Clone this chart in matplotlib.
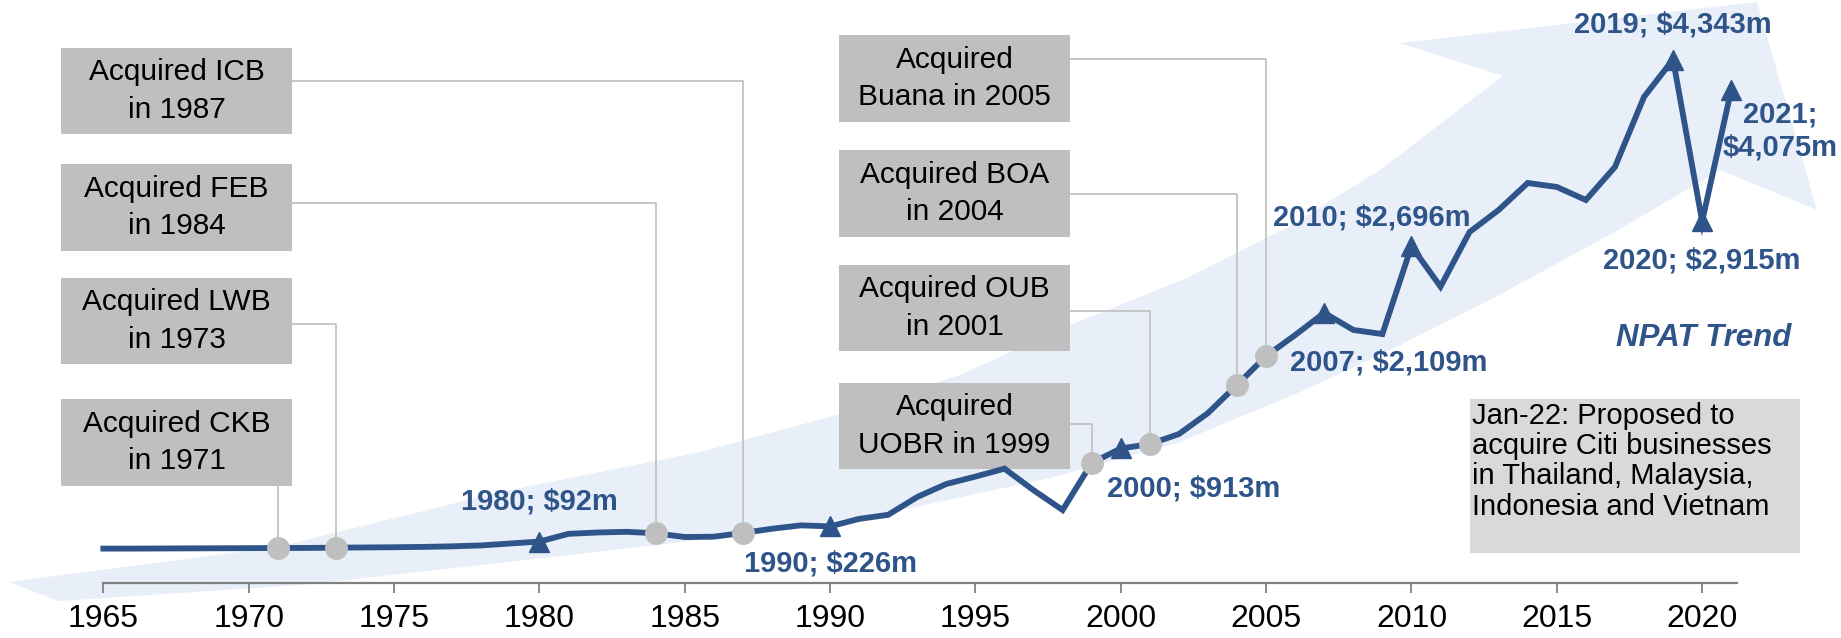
import matplotlib
matplotlib.use("Agg")
import matplotlib.pyplot as plt
from matplotlib.patches import Polygon, Rectangle
from matplotlib.lines import Line2D

plt.rcParams['font.family'] = ['Liberation Sans', 'DejaVu Sans']

# ---- data (NPAT, S$m) ----
years = list(range(1965, 2022))
npat = [30, 30, 31, 32, 33, 34, 35, 36, 38, 40,
        42, 45, 50, 58, 75, 92, 160, 172, 178, 165,
        132, 135, 168, 205, 235, 226, 292, 328, 485, 600,
        665, 735, 545, 370, 785, 913, 952, 1040, 1225, 1473,
        1728, 1913, 2109, 1958, 1922, 2696, 2340, 2822, 3016, 3254,
        3219, 3104, 3395, 4013, 4343, 2915, 4075]

tri_years = [1980, 1990, 2000, 2007, 2010, 2019, 2020, 2021]
tri_labels = ["1980; $92m", "1990; $226m", "2000; $913m", "2007; $2,109m",
              "2010; $2,696m", "2019; $4,343m", "2020; $2,915m", "2021;\n$4,075m"]

acq_years = [1987, 1984, 1973, 1971, 2005, 2004, 2001, 1999]
acq_labels = ["Acquired ICB\nin 1987", "Acquired FEB\nin 1984", "Acquired LWB\nin 1973",
              "Acquired CKB\nin 1971", "Acquired\nBuana in 2005", "Acquired BOA\nin 2004",
              "Acquired OUB\nin 2001", "Acquired\nUOBR in 1999"]

tick_years = list(range(1965, 2021, 5))
note = "Jan-22: Proposed to\nacquire Citi businesses\nin Thailand, Malaysia,\nIndonesia and Vietnam"

# ---- styling / layout ----
W, H = 1841, 638
BLUE = '#2E5489'
GREY = '#BFBFBF'
BAND = '#E8EFF9'

# pixel <-> data mapping
px0, px_per_yr = 103.3, 29.07
py0, py_per_m = 552.0, 0.1134

fig = plt.figure(figsize=(W / 100, H / 100), dpi=100)
ax = fig.add_axes([0, 0, 1, 1])
x_left = 1965 - px0 / px_per_yr
ax.set_xlim(x_left, x_left + W / px_per_yr)
ax.set_ylim((py0 - H) / py_per_m, py0 / py_per_m)
FT = fig.transFigure


def fig_xy(x, y):
    return (x / W, 1 - y / H)


# background trend arrow (pixels)
band_px = [(9, 582), (278, 547), (500, 492), (700, 452), (840, 414), (960, 375),
           (1073, 324), (1187, 278), (1290, 226), (1380, 170), (1503, 76),
           (1400, 43), (1757, 2), (1817, 210), (1720, 170),
           (1613, 233), (1490, 300), (1390, 350), (1300, 392), (1180, 442),
           (1050, 478), (887, 513), (700, 540), (500, 563), (300, 585), (59, 601)]
ax.add_patch(Polygon([fig_xy(x, y) for x, y in band_px], closed=True,
                     facecolor=BAND, edgecolor='none', zorder=0,
                     transform=FT, clip_on=False))

# acquisition boxes (pixel layout): x0, y0, x1, y1, connector y
box_layout = [(61, 48, 292, 134, 81), (61, 164, 292, 251, 203),
              (61, 278, 292, 364, 324), (61, 399, 292, 486, None),
              (839, 35, 1070, 122, 59), (839, 150, 1070, 237, 194),
              (839, 265, 1070, 351, 311), (839, 383, 1070, 469, 424)]

for (x0, y0, x1, y1, cy), yr, lab in zip(box_layout, acq_years, acq_labels):
    ax.add_patch(Rectangle(fig_xy(x0, y1), (x1 - x0) / W, (y1 - y0) / H,
                           facecolor=GREY, edgecolor='none', zorder=2,
                           transform=FT, clip_on=False))
    ax.text((x0 + x1) / 2 / W, 1 - (y0 + y1) / 2 / H, lab, ha='center', va='center',
            fontsize=21.5, linespacing=1.45, color='black', zorder=3, transform=FT)
    val = npat[years.index(yr)]
    ypt = py0 - val * py_per_m
    xpt = px0 + (yr - 1965) * px_per_yr
    if cy is None:
        xs, ys = [xpt, xpt], [y1, ypt]
    else:
        xs, ys = [x1, xpt, xpt], [cy, cy, ypt]
    ax.add_line(Line2D([x / W for x in xs], [1 - y / H for y in ys],
                       color=GREY, lw=1.2, zorder=1, transform=FT, clip_on=False))

# NPAT line
ax.plot(years, npat, color=BLUE, lw=4.2, zorder=4, solid_joinstyle='miter')
ax.plot(tri_years, [npat[years.index(y)] for y in tri_years], ls='none',
        marker='^', ms=15, color=BLUE, zorder=5)
ax.plot(acq_years, [npat[years.index(y)] for y in acq_years], ls='none',
        marker='o', ms=16.5, color=GREY, mec='none', zorder=6)

# value labels, offsets in pixels from the point
lab_offsets = [(0, 40, 'center'), (0, -37, 'center'), (-14, -40, 'left'),
               (-34, -50, 'left'), (-40, 29, 'center'), (0, 35, 'center'),
               (0, -39, 'center'), (49, -41, 'center')]
for yr, lab, (dx, dy, ha) in zip(tri_years, tri_labels, lab_offsets):
    ax.annotate(lab, (yr, npat[years.index(yr)]), xytext=(dx, dy),
                textcoords='offset pixels', ha=ha, va='center', fontsize=21,
                fontweight='bold', color=BLUE, linespacing=1.2, zorder=7)

ax.text(1704 / W, 1 - 338 / H, "NPAT Trend", ha='center', va='center', fontsize=22.5,
        fontweight='bold', fontstyle='italic', color=BLUE, zorder=7, transform=FT)

# note box
ax.add_patch(Rectangle(fig_xy(1470, 553), 330 / W, 154 / H, facecolor='#D9D9D9',
                       edgecolor='none', zorder=2, transform=FT, clip_on=False))
ax.text(1472 / W, 1 - 402 / H, note, ha='left', va='top', fontsize=21,
        linespacing=1.1, color='black', zorder=3, transform=FT)

# x axis
for s in ['top', 'right', 'left']:
    ax.spines[s].set_visible(False)
ax.spines['bottom'].set_position(('data', (py0 - 582.5) / py_per_m))
ax.spines['bottom'].set_bounds(1965, 2021.2)
ax.spines['bottom'].set_color('#808080')
ax.spines['bottom'].set_linewidth(1.6)
ax.set_xticks(tick_years)
ax.set_xticklabels([str(t) for t in tick_years])
ax.tick_params(axis='x', direction='out', length=7.5, width=1.3, color='#808080',
               labelsize=23, pad=8, labelcolor='black')
ax.set_yticks([])
ax.patch.set_alpha(0)

fig.savefig("out.png", dpi=100)
